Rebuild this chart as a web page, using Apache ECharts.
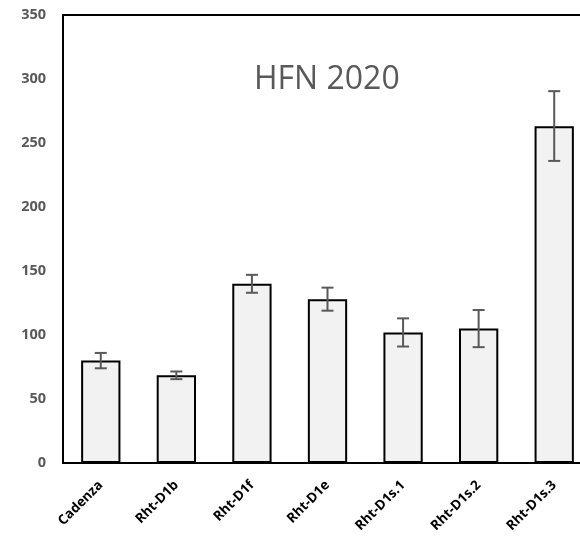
<!DOCTYPE html>
<html>
<head>
<meta charset="utf-8">
<style>
  html, body { margin: 0; padding: 0; background: #fff; }
  #chart { width: 580px; height: 541px; }
</style>
</head>
<body>
<div id="chart"></div>
<script src="https://cdn.jsdelivr.net/npm/echarts@6/dist/echarts.min.js"></script>
<script>
var categories = ['Cadenza', 'Rht-D1b', 'Rht-D1f', 'Rht-D1e', 'Rht-D1s.1', 'Rht-D1s.2', 'Rht-D1s.3'];
var hfnMean = [80, 68.5, 140, 128, 102, 105, 263];
var hfnErrLow = [74, 65.5, 133, 119, 91, 90.5, 236];
var hfnErrHigh = [86, 71.5, 147, 137, 113, 119.5, 290.5];
var yTicks = [0, 50, 100, 150, 200, 250, 300, 350];

var errData = categories.map(function (c, i) {
  return [i, hfnErrLow[i], hfnErrHigh[i]];
});

var chart = echarts.init(document.getElementById('chart'));

chart.setOption({
  animation: false,
  title: {
    text: 'HFN 2020',
    left: 249,
    top: 59,
    textStyle: {
      fontFamily: 'Open Sans',
      fontSize: 32,
      fontWeight: 'normal',
      color: '#595959',
    },
  },
  grid: {
    left: 63,
    top: 15,
    right: -12,
    bottom: 78,
    outerBoundsMode: 'none',
    containLabel: false,
    show: true,
    borderColor: '#000',
    borderWidth: 2,
    backgroundColor: 'transparent',
  },
  xAxis: {
    type: 'category',
    data: categories,
    axisTick: { show: false },
    axisLine: { lineStyle: { color: '#000', width: 2 } },
    axisLabel: {
      rotate: 45,
      interval: 0,
      margin: 20,
      fontFamily: 'Open Sans',
      fontSize: 13.5,
      fontWeight: 'bold',
      color: '#000',
    },
  },
  yAxis: {
    type: 'value',
    min: yTicks[0],
    max: yTicks[yTicks.length - 1],
    interval: 50,
    splitLine: { show: false },
    axisTick: { show: false },
    axisLine: { show: true, lineStyle: { color: '#000', width: 2 } },
    axisLabel: {
      margin: 17,
      fontFamily: 'Open Sans',
      fontSize: 14.5,
      fontWeight: 'bold',
      color: '#595959',
    },
  },
  series: [
    {
      name: 'HFN',
      type: 'bar',
      barWidth: '52%',
      data: hfnMean,
      itemStyle: {
        color: '#f2f2f2',
        borderColor: '#000',
        borderWidth: 2,
      },
    },
    {
      name: 'error',
      type: 'custom',
      data: errData,
      z: 10,
      renderItem: function (params, api) {
        var x = api.value(0);
        var lo = api.coord([x, api.value(1)]);
        var hi = api.coord([x, api.value(2)]);
        var half = 6;
        var style = { stroke: '#595959', lineWidth: 2 };
        return {
          type: 'group',
          children: [
            { type: 'line', shape: { x1: lo[0], y1: lo[1], x2: hi[0], y2: hi[1] }, style: style },
            { type: 'line', shape: { x1: lo[0] - half, y1: lo[1], x2: lo[0] + half, y2: lo[1] }, style: style },
            { type: 'line', shape: { x1: hi[0] - half, y1: hi[1], x2: hi[0] + half, y2: hi[1] }, style: style },
          ],
        };
      },
    },
  ],
});
</script>
</body>
</html>
